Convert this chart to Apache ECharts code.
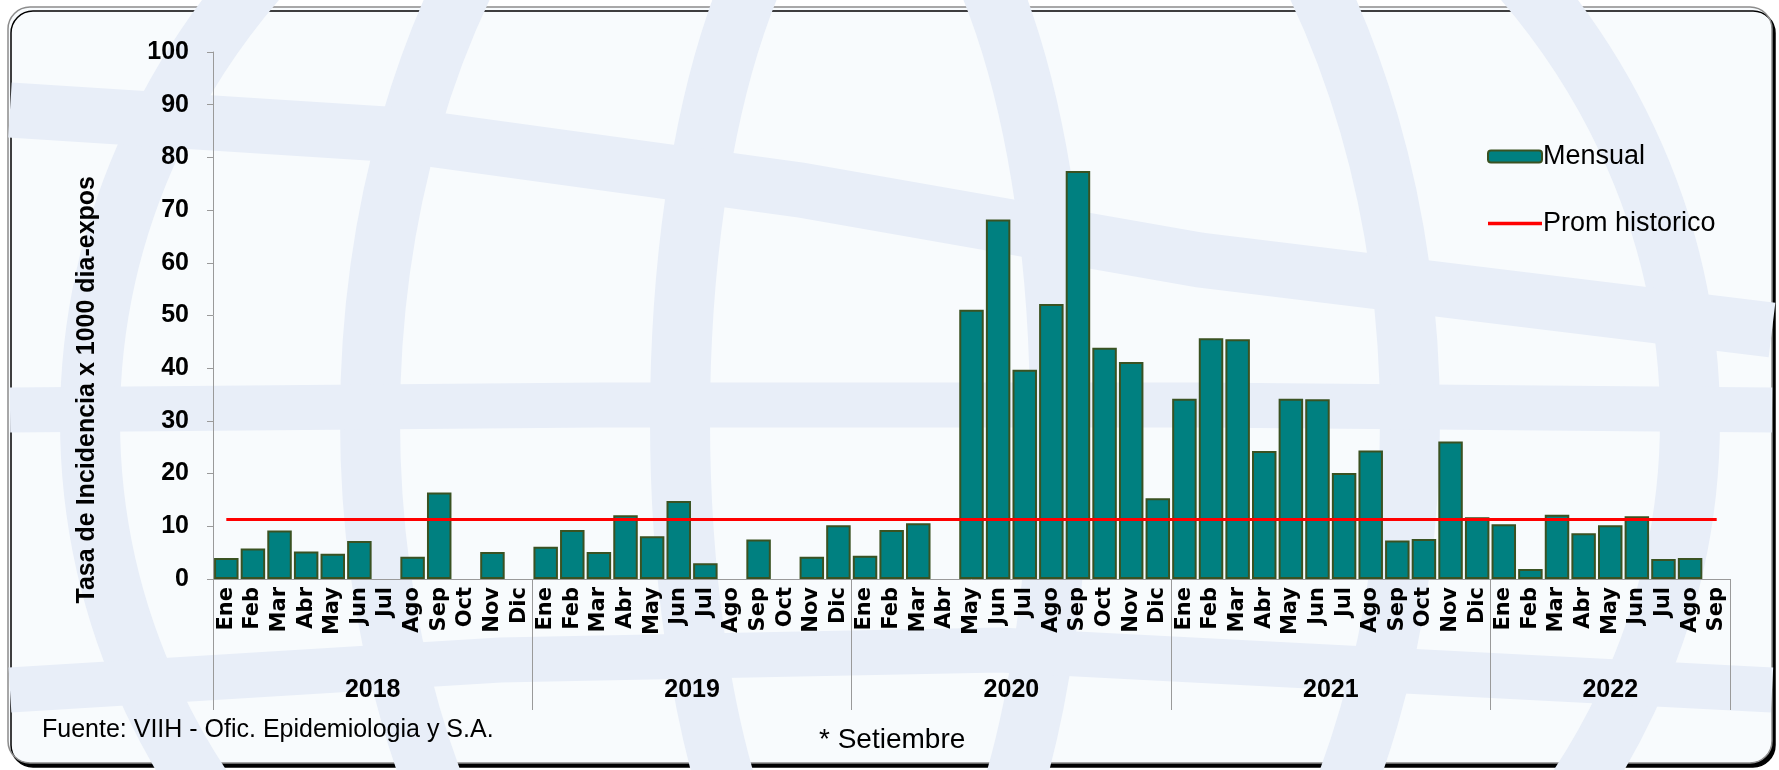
<!DOCTYPE html>
<html>
<head>
<meta charset="utf-8">
<script src="https://cdn.jsdelivr.net/npm/echarts@6/dist/echarts.min.js"></script>
<style>
  html, body { margin: 0; padding: 0; background: #ffffff; }
  #chart { width: 1779px; height: 770px; }
</style>
</head>
<body>
<div id="chart"></div>
<script>
// meses y años del eje
const months = ['Ene', 'Feb', 'Mar', 'Abr', 'May', 'Jun', 'Jul', 'Ago', 'Sep', 'Oct', 'Nov', 'Dic']
const years = ['2018', '2019', '2020', '2021', '2022']
const monthsPerYear = [12, 12, 12, 12, 9]

// tasa mensual (null = sin barra)
const mensual2018 = [4.0, 5.8, 9.2, 5.2, 4.8, 7.2, null, 4.2, 16.4, null, 5.1, null]
const mensual2019 = [6.1, 9.3, 5.1, 12.1, 8.1, 14.8, 3.0, null, 7.5, null, 4.2, 10.2]
const mensual2020 = [4.4, 9.3, 10.6, null, 51.1, 68.2, 39.7, 52.2, 77.4, 43.9, 41.2, 15.3]
const mensual2021 = [34.2, 45.7, 45.5, 24.3, 34.2, 34.1, 20.1, 24.4, 7.3, 7.6, 26.1, 11.7]
const mensual2022 = [10.4, 1.9, 12.2, 8.7, 10.2, 11.9, 3.8, 4.0, null]
const mensual = [].concat(mensual2018, mensual2019, mensual2020, mensual2021, mensual2022)

const promHistorico = 11.3
const yTicks = [0, 10, 20, 30, 40, 50, 60, 70, 80, 90, 100]

const categories = []
monthsPerYear.forEach((n, i) => {
  for (let m = 0; m < n; m++) categories.push(months[m] + ' ' + years[i])
})

// limites y centros de cada año en el eje auxiliar
const yearBounds = [0]
monthsPerYear.forEach(n => yearBounds.push(yearBounds[yearBounds.length - 1] + n))
const yearCenters = years.map((y, i) => (yearBounds[i] + yearBounds[i + 1]) / 2)

const band = '#e8eef8'
const font = 'Liberation Sans, Arial, sans-serif'
const chart = echarts.init(document.getElementById('chart'))

function ring(cx, cy, rx, ry, w) {
  return {
    type: 'ellipse', z: -15, silent: true,
    shape: { cx: cx, cy: cy, rx: rx, ry: ry },
    style: { fill: 'none', stroke: band, lineWidth: w }
  }
}

chart.setOption({
  animation: false,
  backgroundColor: '#ffffff',
  textStyle: { fontFamily: font },
  grid: {
    left: 213,
    right: 49,
    top: 52,
    bottom: 191,
    containLabel: false
  },
  legend: {
    orient: 'vertical',
    left: 1482,
    top: 138,
    itemWidth: 54,
    itemHeight: 12,
    itemGap: 40,
    textStyle: { fontSize: 27, color: '#000', fontFamily: font, padding: [0, 0, 0, -4] },
    data: [
      { name: 'Mensual' },
      { name: 'Prom historico', icon: 'path://M0,0 L54,0 L54,3.5 L0,3.5 Z' }
    ]
  },
  xAxis: [
    {
      type: 'category',
      data: categories,
      boundaryGap: true,
      axisLine: { lineStyle: { color: '#9a9a9a', width: 1 } },
      axisTick: { show: false },
      axisLabel: {
        interval: 0,
        rotate: 90,
        margin: 8,
        color: '#000',
        fontSize: 21,
        fontWeight: 'bold',
        fontFamily: 'DejaVu Sans, Verdana, sans-serif',
        formatter: v => v.split(' ')[0]
      },
      splitLine: { show: false }
    },
    {
      type: 'value',
      position: 'bottom',
      min: 0,
      max: yearBounds[yearBounds.length - 1],
      axisLine: { show: false },
      axisTick: {
        show: true,
        customValues: yearBounds,
        length: 131,
        lineStyle: { color: '#9a9a9a', width: 1 }
      },
      axisLabel: {
        customValues: yearCenters,
        margin: 99,
        color: '#000',
        fontSize: 25,
        fontWeight: 'bold',
        formatter: v => years[yearCenters.indexOf(v)] || ''
      },
      splitLine: { show: false }
    }
  ],
  yAxis: {
    type: 'value',
    min: yTicks[0],
    max: yTicks[yTicks.length - 1],
    interval: 10,
    axisLine: { show: true, lineStyle: { color: '#9a9a9a', width: 1 } },
    axisTick: { show: true, length: 6, lineStyle: { color: '#9a9a9a' } },
    axisLabel: {
      margin: 24,
      color: '#000',
      fontSize: 25,
      fontWeight: 'bold'
    },
    splitLine: { show: false }
  },
  graphic: [
    // marco con sombra
    {
      type: 'rect',
      z: -20,
      shape: { x: 8, y: 7, width: 1764, height: 756, r: 22 },
      style: {
        fill: '#f8fbfd',
        stroke: '#8c8c8c',
        lineWidth: 1.5,
        shadowColor: '#000',
        shadowOffsetX: 3,
        shadowOffsetY: 4,
        shadowBlur: 0
      },
      silent: true
    },
    // marca de agua tenue (globo)
    ring(890, 420, 800, 720, 60),
    ring(890, 420, 520, 760, 60),
    ring(870, 420, 190, 560, 60),
    {
      type: 'polyline', z: -15, silent: true,
      shape: { points: [[10, 410], [600, 405], [1200, 405], [1772, 410]] },
      style: { fill: 'none', stroke: band, lineWidth: 45 }
    },
    {
      type: 'polyline', z: -15, silent: true,
      shape: { points: [[10, 110], [400, 135], [800, 190], [1200, 260], [1772, 330]] },
      style: { fill: 'none', stroke: band, lineWidth: 55 }
    },
    {
      type: 'polyline', z: -15, silent: true,
      shape: { points: [[10, 690], [500, 660], [1000, 650], [1772, 690]] },
      style: { fill: 'none', stroke: band, lineWidth: 45 }
    },
    // titulo eje y
    {
      type: 'text',
      left: 75,
      top: 176,
      rotation: Math.PI / 2,
      style: {
        text: 'Tasa de Incidencia x 1000 dia-expos',
        fontSize: 25,
        fontWeight: 'bold',
        fontFamily: font,
        fill: '#000'
      }
    },
    {
      type: 'text',
      left: 42,
      top: 718,
      style: {
        text: 'Fuente: VIIH - Ofic. Epidemiologia y S.A.',
        fontSize: 25,
        fontFamily: font,
        fill: '#000'
      }
    },
    {
      type: 'text',
      left: 819,
      top: 726,
      style: {
        text: '* Setiembre',
        fontSize: 28,
        fontFamily: font,
        fill: '#000'
      }
    }
  ],
  series: [
    {
      name: 'Mensual',
      type: 'bar',
      xAxisIndex: 0,
      data: mensual,
      barCategoryGap: '8%',
      itemStyle: {
        color: '#008080',
        borderColor: '#3a5222',
        borderWidth: 2
      }
    },
    {
      name: 'Prom historico',
      type: 'line',
      xAxisIndex: 0,
      data: [],
      symbol: 'none',
      itemStyle: { color: '#ff0000' },
      lineStyle: { color: '#ff0000', width: 3 },
      markLine: {
        silent: true,
        symbol: 'none',
        label: { show: false },
        lineStyle: { color: '#ff0000', width: 3, type: 'solid' },
        data: [[
          { coord: [0, promHistorico] },
          { coord: [categories.length - 1, promHistorico] }
        ]]
      }
    }
  ]
})
</script>
</body>
</html>
